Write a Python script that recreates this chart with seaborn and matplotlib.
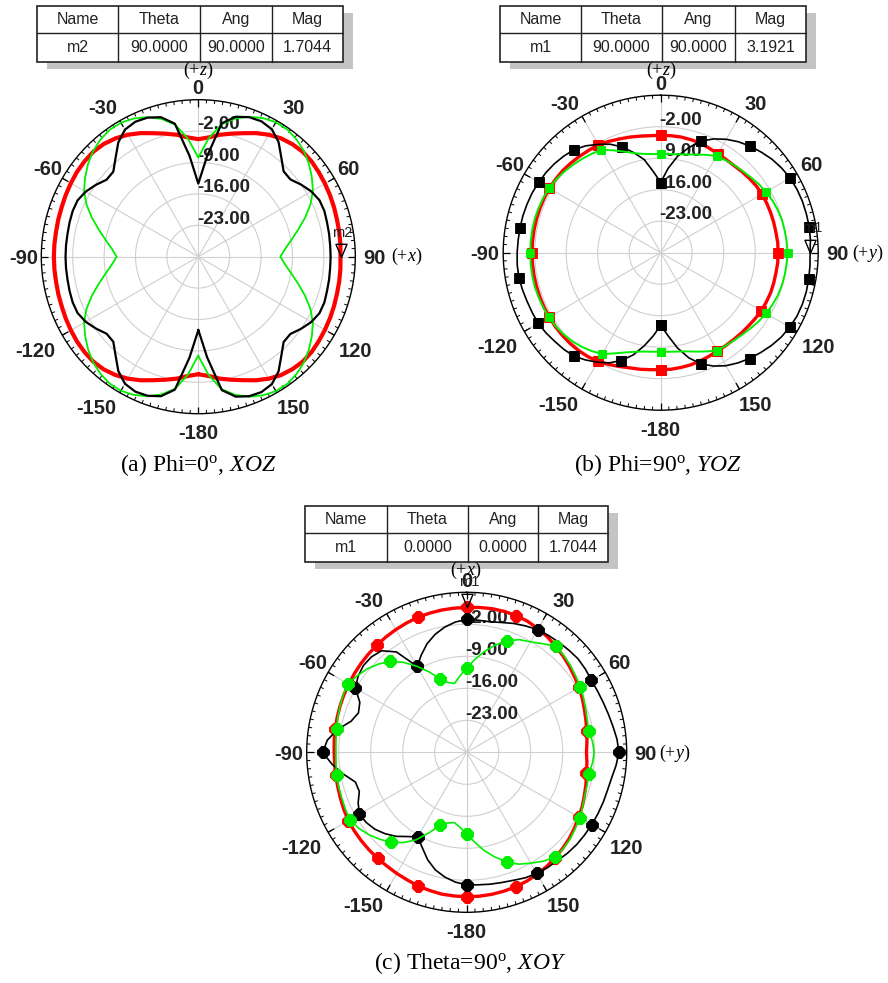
import numpy as np
import matplotlib
matplotlib.use("Agg")
import matplotlib.pyplot as plt
from matplotlib.patches import Rectangle
from matplotlib.path import Path
import seaborn as sns

sns.set_theme(style="white")
plt.rcParams["font.family"] = ["Liberation Sans", "DejaVu Sans"]
plt.rcParams["mathtext.fontset"] = "custom"
plt.rcParams["mathtext.rm"] = "Liberation Serif"
plt.rcParams["mathtext.it"] = "Liberation Serif:italic"

W, H = 888, 983

# ---------------- data (gain in dB, sampled every 5 degrees from -180 to 180) ----------------
theta_deg = np.arange(-180, 181, 5)

r_min, r_max = -30.0, 5.0
ring_levels = [-23.0, -16.0, -9.0, -2.0]
angle_ticks = [0, 30, 60, 90, 120, 150, 180, 210, 240, 270, 300, 330]
angle_labels = ["0", "30", "60", "90", "120", "150", "-180", "-150", "-120", "-90", "-60", "-30"]

# (a) Phi = 0 deg, XOZ plane
a_red = [
    -3.8, -3.3, -2.4, -1.6, -0.7, 0.4,
    1.4, 2.2, 2.8, 3.1, 3.1, 3.0,
    2.8, 2.6, 2.4, 2.3, 2.2, 2.2,
    2.2, 2.2, 2.2, 2.3, 2.4, 2.6,
    2.8, 3.0, 3.1, 3.1, 2.8, 2.2,
    1.4, 0.4, -0.7, -1.6, -2.4, -3.3,
    -3.8, -3.3, -2.4, -1.6, -0.7, 0.4,
    1.4, 2.2, 2.7, 3.0, 3.0, 2.8,
    2.6, 2.4, 2.2, 2.0, 1.9, 1.8,
    1.7, 1.8, 1.9, 2.0, 2.2, 2.4,
    2.6, 2.8, 3.0, 3.0, 2.7, 2.2,
    1.4, 0.4, -0.7, -1.6, -2.4, -3.3,
    -3.8,
]
a_black = [
    -13.6, -7.4, 0.1, 2.2, 3.0, 3.2,
    2.7, 1.1, -1.3, -3.2, -3.3, -2.1,
    -1.0, -0.3, -0.2, -0.3, -0.4, -0.4,
    -0.4, -0.4, -0.4, -0.3, -0.2, -0.3,
    -1.0, -2.1, -3.3, -3.2, -1.3, 1.1,
    2.7, 3.2, 3.0, 2.2, 0.1, -7.4,
    -13.7, -7.5, 0.2, 2.3, 3.1, 3.3,
    2.8, 1.2, -1.2, -3.1, -3.2, -2.0,
    -0.9, -0.2, -0.1, -0.3, -0.4, -0.5,
    -0.5, -0.5, -0.4, -0.3, -0.1, -0.2,
    -0.9, -2.0, -3.2, -3.1, -1.2, 1.2,
    2.8, 3.3, 3.1, 2.3, 0.2, -7.5,
    -13.7,
]
a_green = [
    -8.0, -3.6, -0.1, 1.8, 3.1, 4.0,
    4.5, 4.5, 4.0, 3.2, 2.1, 0.8,
    -0.6, -2.5, -4.8, -7.1, -9.1, -10.7,
    -11.8, -10.7, -9.1, -7.1, -4.8, -2.5,
    -0.6, 0.8, 2.1, 3.2, 4.0, 4.5,
    4.5, 4.0, 3.1, 1.8, -0.1, -3.6,
    -7.9, -3.5, 0.0, 1.9, 3.2, 4.1,
    4.6, 4.6, 4.1, 3.3, 2.2, 0.9,
    -0.5, -2.4, -4.7, -7.0, -9.0, -10.6,
    -11.7, -10.6, -9.0, -7.0, -4.7, -2.4,
    -0.5, 0.9, 2.2, 3.3, 4.1, 4.6,
    4.6, 4.1, 3.2, 1.9, 0.0, -3.5,
    -7.9,
]

# (b) Phi = 90 deg, YOZ plane
b_red = [
    -4.0, -3.9, -3.7, -3.5, -3.1, -2.6,
    -2.1, -1.8, -1.6, -1.5, -1.45, -1.4,
    -1.4, -1.4, -1.4, -1.4, -1.4, -1.4,
    -1.4, -1.4, -1.4, -1.4, -1.4, -1.4,
    -1.4, -1.5, -1.6, -1.8, -2.0, -2.2,
    -2.3, -2.7, -3.1, -3.4, -3.7, -3.9,
    -3.9, -3.9, -3.9, -4.0, -4.1, -4.4,
    -4.6, -4.7, -4.7, -4.5, -4.3, -4.1,
    -4.0, -4.0, -4.0, -4.0, -4.0, -3.9,
    -3.9, -3.9, -4.0, -4.0, -4.0, -4.1,
    -4.2, -4.4, -4.6, -4.7, -4.8, -4.8,
    -4.8, -4.6, -4.4, -4.2, -4.1, -4.0,
    -4.0,
]
b_green = [
    -8.0, -7.9, -7.7, -7.2, -6.4, -5.3,
    -4.0, -3.3, -2.7, -2.2, -1.8, -1.5,
    -1.3, -1.2, -1.1, -1.0, -1.0, -1.0,
    -1.0, -1.0, -1.0, -1.0, -1.1, -1.2,
    -1.3, -1.6, -2.0, -2.4, -2.8, -3.2,
    -3.6, -4.9, -6.1, -7.1, -7.7, -8.0,
    -8.0, -8.0, -7.8, -7.4, -6.8, -6.0,
    -5.2, -4.9, -4.6, -4.3, -3.9, -3.4,
    -3.0, -2.6, -2.3, -2.1, -2.0, -1.9,
    -1.8, -1.9, -2.0, -2.1, -2.3, -2.6,
    -3.0, -3.4, -3.9, -4.3, -4.6, -4.8,
    -4.9, -5.8, -6.6, -7.3, -7.7, -7.9,
    -8.0,
]
b_black = [
    -13.9, -11.5, -9.0, -6.5, -4.5, -3.0,
    -1.9, -0.9, 0.0, 0.4, 0.7, 1.1,
    1.4, 1.5, 1.6, 1.8, 2.0, 2.0,
    1.9, 1.8, 1.75, 1.7, 1.6, 1.5,
    1.3, 1.1, 0.8, 0.4, -0.1, -1.0,
    -2.2, -3.4, -5.0, -7.0, -9.0, -12.0,
    -14.4, -11.2, -8.2, -5.8, -3.6, -2.1,
    -0.9, 0.1, 0.9, 1.6, 2.3, 2.8,
    3.2, 3.4, 3.5, 3.5, 3.5, 3.4,
    3.2, 3.3, 3.4, 3.5, 3.5, 3.4,
    3.1, 2.7, 2.1, 1.4, 0.7, -0.1,
    -1.0, -2.2, -3.7, -5.8, -8.5, -11.5,
    -13.9,
]

# (c) Theta = 90 deg, XOY plane
c_red = [
    1.6, 1.55, 1.5, 1.3, 1.1, 0.8,
    0.6, 0.4, 0.3, 0.2, 0.1, 0.0,
    -0.1, -0.35, -0.6, -0.8, -0.9, -1.0,
    -1.0, -0.9, -0.8, -0.65, -0.5, -0.35,
    -0.2, 0.0, 0.2, 0.4, 0.6, 0.8,
    1.0, 1.2, 1.4, 1.5, 1.6, 1.65,
    1.7, 1.8, 1.9, 1.9, 1.8, 1.6,
    1.2, 0.8, 0.3, -0.2, -0.7, -1.2,
    -1.6, -2.1, -2.6, -3.0, -3.3, -3.6,
    -3.8, -3.6, -3.4, -3.0, -2.6, -2.1,
    -1.7, -1.2, -0.7, -0.3, 0.1, 0.5,
    0.8, 1.1, 1.3, 1.45, 1.55, 1.6,
    1.6,
]
c_green = [
    -12.2, -13.5, -14.4, -14.0, -13.0, -10.6,
    -7.9, -5.9, -4.3, -3.1, -2.0, -1.1,
    -0.5, -0.7, -0.9, -1.0, -1.1, -1.3,
    -1.4, -1.3, -1.1, -0.8, -0.5, -0.2,
    0.0, -0.8, -1.6, -2.7, -4.0, -6.0,
    -8.3, -10.6, -12.9, -14.2, -14.7, -13.2,
    -11.6, -9.6, -7.6, -5.7, -4.1, -2.8,
    -2.1, -1.0, 0.3, 0.0, -0.4, -0.9,
    -1.3, -1.8, -2.3, -2.7, -2.9, -2.4,
    -2.1, -2.4, -2.9, -2.7, -2.5, -2.0,
    -1.4, -1.0, -0.5, -0.2, 0.0, -0.9,
    -2.0, -3.0, -4.5, -6.3, -8.2, -10.3,
    -12.2,
]
c_black = [
    -1.0, -1.5, -2.3, -3.4, -5.0, -7.0,
    -8.6, -7.5, -6.0, -4.8, -3.8, -3.2,
    -2.9, -3.8, -5.0, -4.8, -2.6, -0.4,
    1.5, 0.6, -1.3, -3.8, -4.8, -4.2,
    -1.9, -1.0, -0.5, -0.5, -1.0, -3.2,
    -8.3, -6.5, -4.7, -3.3, -2.2, -1.4,
    -0.9, -1.0, -1.0, -0.6, 0.0, 0.5,
    1.0, 1.2, 1.4, 1.6, 1.8, 1.7,
    1.5, 1.6, 1.8, 2.1, 2.5, 3.0,
    3.3, 2.8, 2.2, 1.9, 1.8, 1.7,
    1.6, 1.5, 1.4, 1.2, 0.9, 0.8,
    0.6, 0.3, -0.2, -0.5, -0.7, -0.9,
    -1.0,
]

# marker tables: name, theta, angle, magnitude
table_header = ["Name", "Theta", "Ang", "Mag"]
a_marker = ["m2", 90.0, 90.0, 1.7044]
b_marker = ["m1", 90.0, 90.0, 3.1921]
c_marker = ["m1", 0.0, 0.0, 1.7044]

captions = [
    "(a) Phi=0${}^{\\mathrm{o}}$, $\\mathit{XOZ}$",
    "(b) Phi=90${}^{\\mathrm{o}}$, $\\mathit{YOZ}$",
    "(c) Theta=90${}^{\\mathrm{o}}$, $\\mathit{XOY}$",
]

RED = "#ff0000"
GREEN = "#00ee00"
BLACK = "#000000"
LABEL_COLOR = "#222222"
ANGLE_FS = 14.5
RING_FS = 13.5

# angle label centres relative to the plot centre, in pixels, for a 157 px ring
label_offsets = [(0, -170), (95, -150), (150, -89), (176, 0), (157, 93), (95, 150),
                 (0, 175), (-102, 150), (-163, 93), (-175, 0), (-151, -89), (-96, -150)]

fig = plt.figure(figsize=(W / 100, H / 100), dpi=100)
fig.patch.set_facecolor("white")
PT = 72.0 / fig.dpi  # points per pixel


def fx(x):
    return x / W


def fy(y):
    return 1 - y / H


def polar_axes(cx, cy, R):
    ax = fig.add_axes([(cx - R) / W, (H - cy - R) / H, 2 * R / W, 2 * R / H],
                      projection="polar")
    ax.set_theta_zero_location("N")
    ax.set_theta_direction(-1)
    ax.set_facecolor("white")
    ax.set_xticks(np.deg2rad(angle_ticks))
    ax.set_xticklabels([])
    ax.set_yticks(ring_levels)
    ax.set_yticklabels([])
    ax.grid(True, color="#cfcfcf", lw=0.8)
    ax.spines["polar"].set_color("black")
    ax.spines["polar"].set_linewidth(1.0)
    # scale ticks around the outer ring
    px_db = (r_max - r_min) / R
    minor = np.deg2rad(np.arange(0, 360, 3))
    ax.vlines(minor, r_max - 3.5 * px_db, r_max, color="black", lw=0.7)
    major = np.deg2rad(np.arange(0, 360, 30))
    ax.vlines(major, r_max - 7 * px_db, r_max, color="black", lw=0.9)
    # angle labels around the ring
    for (dx, dy), lab in zip(label_offsets, angle_labels):
        d = np.hypot(dx, dy)
        k = (d + R - 157) / d
        ax.annotate(lab, xy=(0, r_min), xytext=(dx * k * PT, -dy * k * PT),
                    textcoords="offset points", ha="center", va="center_baseline",
                    fontsize=ANGLE_FS, fontweight="bold", color=LABEL_COLOR,
                    annotation_clip=False)
    for lev in ring_levels:
        ax.annotate(f"{lev:.2f}", xy=(0, lev), xytext=(-1, 4.5), textcoords="offset points",
                    ha="left", va="center", fontsize=RING_FS, fontweight="bold",
                    color=LABEL_COLOR, zorder=1)
    return ax


def finish(ax):
    ax.set_xlabel("")
    ax.set_ylabel("")
    ax.set_ylim(r_min, r_max)


def trace(ax, vals, color, lw, marker=None, every=None, ms=None, z=2):
    sns.lineplot(x=np.deg2rad(theta_deg), y=np.asarray(vals), ax=ax, color=color, lw=lw,
                 sort=False, estimator=None, legend=False, marker=marker, markevery=every,
                 ms=ms, mfc=color, mec=color, mew=0.6, zorder=z)


tri = Path([(-0.42, 1.0), (0.42, 1.0), (0.0, 0.0), (-0.42, 1.0)],
           [Path.MOVETO, Path.LINETO, Path.LINETO, Path.CLOSEPOLY])


def marker_flag(ax, info, dy_pt):
    name, th, ang, mag = info
    ax.plot([np.deg2rad(ang)], [mag], marker=tri, ms=19, mfc="none", mec="black",
            mew=1.0, ls="none", zorder=6, clip_on=False)
    ax.annotate(name, xy=(np.deg2rad(ang), mag), xytext=(1.5, dy_pt), textcoords="offset points",
                ha="center", va="center", fontsize=10.5, color="#222222", zorder=6,
                annotation_clip=False)


def table(x0, y0, x1, y1, ymid, cols, row):
    w, h = (x1 - x0) / W, (y1 - y0) / H
    fig.add_artist(Rectangle((fx(x0 + 10), fy(y1 + 7)), w, h, transform=fig.transFigure,
                             facecolor="#c4c4c4", edgecolor="none", zorder=1))
    fig.add_artist(Rectangle((fx(x0), fy(y1)), w, h, transform=fig.transFigure,
                             facecolor="white", edgecolor="#222222", lw=1.2, zorder=2))
    fig.add_artist(plt.Line2D([fx(x0), fx(x1)], [fy(ymid), fy(ymid)], transform=fig.transFigure,
                              color="#222222", lw=1.0, zorder=3))
    for c in cols:
        fig.add_artist(plt.Line2D([fx(c), fx(c)], [fy(y0), fy(y1)], transform=fig.transFigure,
                                  color="#222222", lw=1.0, zorder=3))
    edges = [x0] + list(cols) + [x1]
    cells = [row[0], f"{row[1]:.4f}", f"{row[2]:.4f}", f"{row[3]:.4f}"]
    for i in range(4):
        xc = (edges[i] + edges[i + 1]) / 2
        fig.text(fx(xc), fy((y0 + ymid) / 2), table_header[i], ha="center", va="center",
                 fontsize=11.5, color="#222222", zorder=4)
        fig.text(fx(xc), fy((ymid + y1) / 2), cells[i], ha="center", va="center",
                 fontsize=11.5, color="#222222", zorder=4)


def serif_text(x, y, s, size=13):
    fig.text(fx(x), fy(y), s, ha="center", va="center", fontsize=size,
             family="Liberation Serif", color="black")


# ---------------- (a) ----------------
ax_a = polar_axes(198.3, 256.7, 157)
trace(ax_a, a_red, RED, 3.0, z=2)
trace(ax_a, a_green, GREEN, 1.3, z=3)
trace(ax_a, a_black, BLACK, 1.6, z=4)
marker_flag(ax_a, a_marker, 17)
finish(ax_a)

# ---------------- (b) ----------------
ax_b = polar_axes(660.7, 252.7, 157.5)
trace(ax_b, b_red, RED, 2.4, marker="s", every=6, ms=6.5, z=2)
trace(ax_b, b_black, BLACK, 1.2, marker="s", every=4, ms=6.5, z=3)
trace(ax_b, b_green, GREEN, 1.4, marker="s", every=6, ms=6.0, z=4)
marker_flag(ax_b, b_marker, 18)
finish(ax_b)

# ---------------- (c) ----------------
ax_c = polar_axes(466.7, 752.3, 160)
trace(ax_c, c_red, RED, 2.4, marker="8", every=4, ms=9, z=2)
trace(ax_c, c_black, BLACK, 1.2, marker="8", every=6, ms=9, z=3)
trace(ax_c, c_green, GREEN, 1.2, marker="8", every=4, ms=9, z=4)
marker_flag(ax_c, c_marker, 18)
finish(ax_c)

# ---------------- marker tables ----------------
table(37, 6, 343, 62, 33.3, [118, 200, 272], a_marker)
table(500, 6, 806, 62, 33.3, [581, 662, 735], b_marker)
table(305, 506, 608, 562, 533.3, [387, 468, 538], c_marker)

# ---------------- axis direction labels ----------------
serif_text(198, 70, "(+$\\mathit{z}$)")
serif_text(407, 256, "(+$\\mathit{x}$)")
serif_text(661, 70, "(+$\\mathit{z}$)")
serif_text(868, 253, "(+$\\mathit{y}$)")
serif_text(466, 570, "(+$\\mathit{x}$)")
serif_text(675, 753, "(+$\\mathit{y}$)")

# ---------------- captions ----------------
serif_text(198, 465, captions[0], size=17)
serif_text(658, 465, captions[1], size=17)
serif_text(470, 963, captions[2], size=17)

fig.savefig("out.png", dpi=100, facecolor="white")
